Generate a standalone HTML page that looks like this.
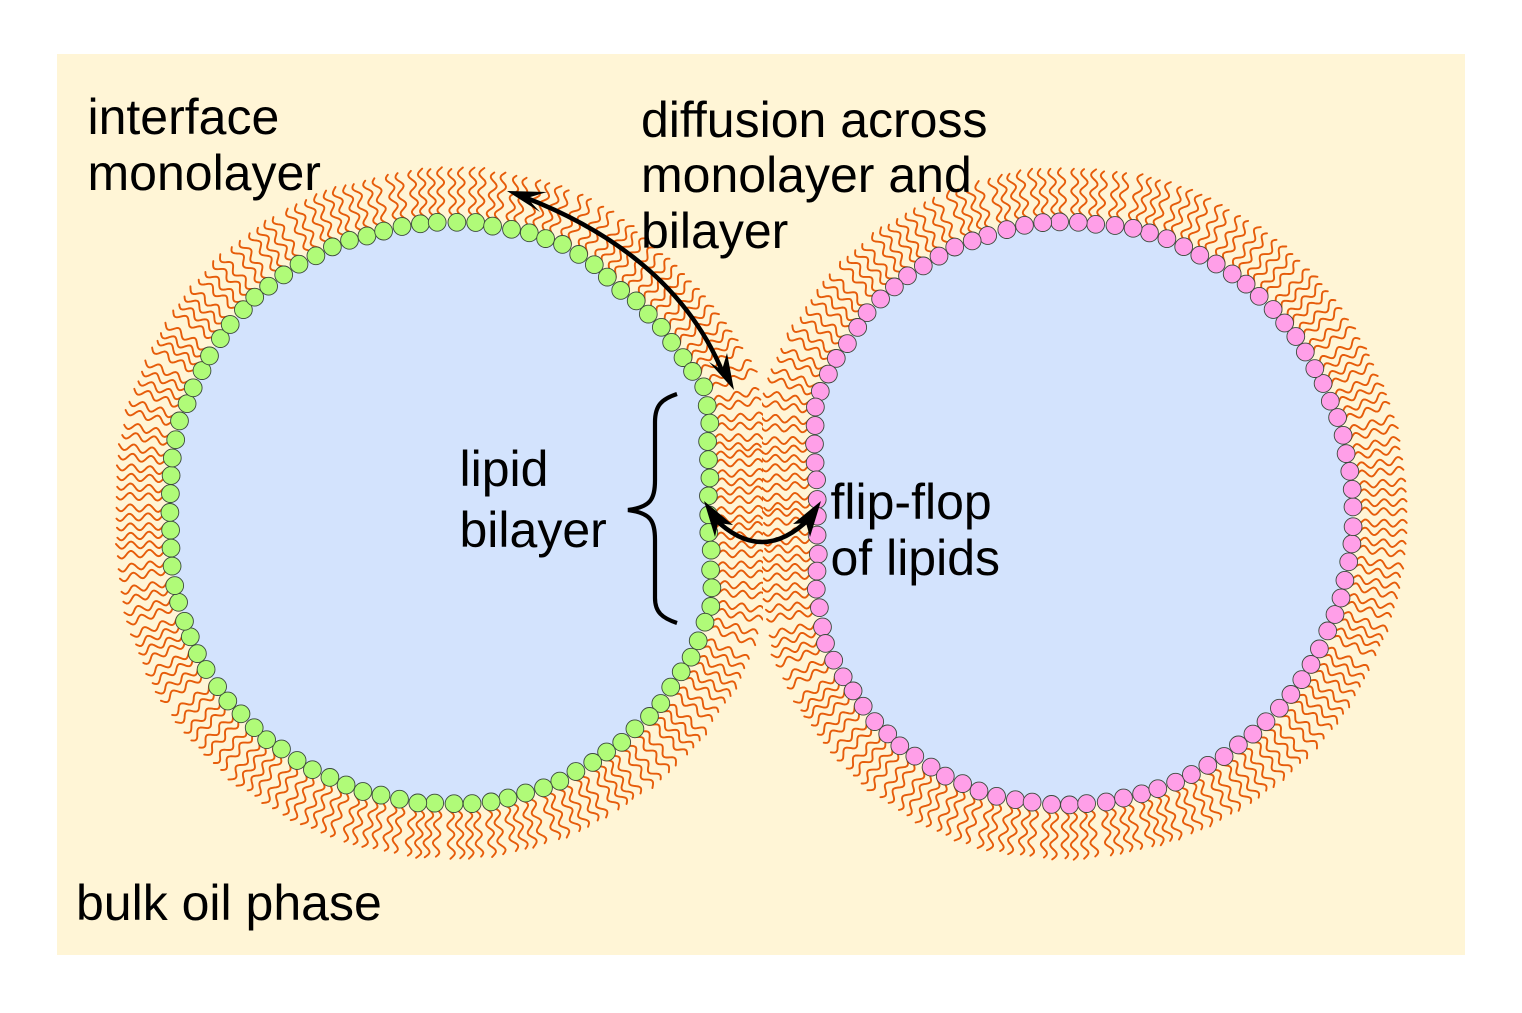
<!DOCTYPE html>
<html>
<head>
<meta charset="utf-8">
<style>
html,body{margin:0;padding:0;background:#fff;}
svg{display:block;}
text{font-family:"Liberation Sans",sans-serif;font-size:50px;fill:#000;}
</style>
</head>
<body>
<svg id="s" xmlns="http://www.w3.org/2000/svg" width="1522" height="1013" viewBox="0 0 1522 1013">
<defs>
<clipPath id="cl"><rect x="0" y="0" width="763" height="1013"/></clipPath>
<clipPath id="cr"><rect x="762" y="0" width="760" height="1013"/></clipPath>
</defs>
<rect x="57" y="54" width="1408" height="901" fill="#fff5d6"/>
<g id="shapes"></g>
<text x="87.5" y="134">interface</text>
<text x="87.5" y="190">monolayer</text>
<text x="641" y="137">diffusion across</text>
<text x="641" y="192">monolayer and</text>
<text x="641" y="248">bilayer</text>
<text x="459.5" y="486">lipid</text>
<text x="459.5" y="547">bilayer</text>
<text x="830.5" y="519">flip-flop</text>
<text x="830.5" y="575">of lipids</text>
<text x="76" y="920">bulk oil phase</text>
<path d="M677 394 C662 399 655 405 655 422 L655 480 C655 500 650 507 628 510 C650 513 655 520 655 540 L655 598 C655 612 662 618 677 623" fill="none" stroke="#000" stroke-width="4.2" stroke-linecap="butt"/>
<path d="M524 197 Q674 255 723 373" fill="none" stroke="#000" stroke-width="4.5"/>
<polygon points="507,191 547,192 527,198 540,212" fill="#000"/>
<polygon points="734,390 727,353 722,370 709,362" fill="#000"/>
<path d="M714 518 Q762 566 810 518" fill="none" stroke="#000" stroke-width="4.5"/>
<polygon points="704,501 733,525 718,523 715,537" fill="#000"/>
<polygon points="821,501 793,524 806,523 810,537" fill="#000"/>
</svg>
<script>
(function(){
var seed=12345;
function rnd(){seed=(seed*1103515245+12345)&0x7fffffff;return seed/0x7fffffff;}
function polar(c,t){
  var out=[];
  for(var i=0;i<t.length-1;i++){
    var a0=t[i][0],r0=t[i][1],a1=t[i+1][0],r1=t[i+1][1],steps=Math.max(1,Math.round(Math.abs(a1-a0)/2));
    for(var k=0;k<(i==t.length-2?steps+1:steps);k++){
      var u=k/steps,ang=(a0+(a1-a0)*u)*Math.PI/180,r=r0+(r1-r0)*u;
      out.push([c[0]+r*Math.cos(ang),c[1]+r*Math.sin(ang)]);
    }
  }
  return out;
}
function resample(p,step){
  var q=[],n=p.length,total=0,i;
  for(i=0;i<n;i++){var a=p[i],b=p[(i+1)%n];total+=Math.hypot(b[0]-a[0],b[1]-a[1]);}
  var count=2*Math.round(total/step/2),ds=total/count,d=0,target=0;
  for(i=0;i<n;i++){
    var a2=p[i],b2=p[(i+1)%n],l=Math.hypot(b2[0]-a2[0],b2[1]-a2[1]);
    while(target<d+l&&q.length<count){var u=(target-d)/l;q.push([a2[0]+(b2[0]-a2[0])*u,a2[1]+(b2[1]-a2[1])*u]);target+=ds;}
    d+=l;
  }
  return q;
}
function build(c,ctrl,fillBead,clip){
  var pts=resample(ctrl,9.15),n=pts.length,tails='',beads='',fill='';
  var i;
  for(i=0;i<n;i++){fill+=(i?' ':'')+pts[i][0].toFixed(1)+','+pts[i][1].toFixed(1);}
  for(i=0;i<n;i+=2){
    var a=pts[(i-3+n)%n],b=pts[(i+3)%n];
    var tx=b[0]-a[0],ty=b[1]-a[1],tl=Math.hypot(tx,ty);tx/=tl;ty/=tl;
    var nx=-ty,ny=tx;
    if(nx*(pts[i][0]-c[0])+ny*(pts[i][1]-c[1])<0){nx=-nx;ny=-ny;}
    var rot=(rnd()-.5)*0.07,cr=Math.cos(rot),sr=Math.sin(rot);
    var mx=nx*cr-ny*sr,my=nx*sr+ny*cr,px=-my,py=mx;
    var bx=pts[i][0]+(rnd()-.5)*2,by=pts[i][1]+(rnd()-.5)*2;
    for(var side=-1;side<=1;side+=2){
      var L=54.5+rnd()*2-1,ph=0.4+rnd()*0.3,d='';
      for(var s=3;s<=L;s+=1.4){
        var w=3.5*Math.sin(2*Math.PI*s/18.5+ph)+side*(3.8+s*0.022);
        var x=bx+mx*s+px*w,y=by+my*s+py*w;
        d+=(d?'L':'M')+x.toFixed(1)+' '+y.toFixed(1);
      }
      tails+='<path d="'+d+'"/>';
    }
    beads+='<circle cx="'+bx.toFixed(1)+'" cy="'+by.toFixed(1)+'" r="8.9"/>';
  }
  return '<g clip-path="url(#'+clip+')" fill="none" stroke="#e65c0a" stroke-width="1.9" stroke-linejoin="round" stroke-linecap="round">'+tails+'</g>'+
    '<polygon points="'+fill+'" fill="#d3e3fd"/>'+
    '<g fill="'+fillBead+'" stroke="#3c4a3c" stroke-width="0.9">'+beads+'</g>';
}
var cL=[461,513];
var leftCtrl=[[672,342],[682,356],[693,372],[703,386],[707,402],[709,420],[708,438],[708,457],[709,476],[709,494],[708,512],[708,530],[711,548],[711,567],[711,584],[712,602],[707,619],[700,635],[693,653],[684,668]]
 .concat(polar(cL,[[44,276],[60,281],[75,288],[90,291],[105,294],[120,296],[135,298],[150,299],[165,295],[180,291],[195,295],[210,296],[225,298],[240,296],[255,293],[267,291],[280,289],[291,287],[305,275],[313,274]]));
var cR=[1062,513];
var rightCtrl=[[847,343],[837,356],[829,373],[821,390],[815,407],[815,425],[815,443],[815,462],[817,479],[817,497],[817,516],[818,533],[818,553],[818,571],[817,588],[819,608],[822,627],[826,646],[835,662],[844,678]]
 .concat(polar(cR,[[135,279],[125,283],[110,289],[90,291],[70,292],[50,292],[30,291],[10,291],[-10,291],[-30,292],[-50,294],[-70,293],[-90,291],[-110,287],[-120,283],[-135,279]]));
document.getElementById('shapes').innerHTML=
  build(cL,leftCtrl,'#b0fb78','cl')+build(cR,rightCtrl,'#ff9fe8','cr');
})();
</script>
</body>
</html>
